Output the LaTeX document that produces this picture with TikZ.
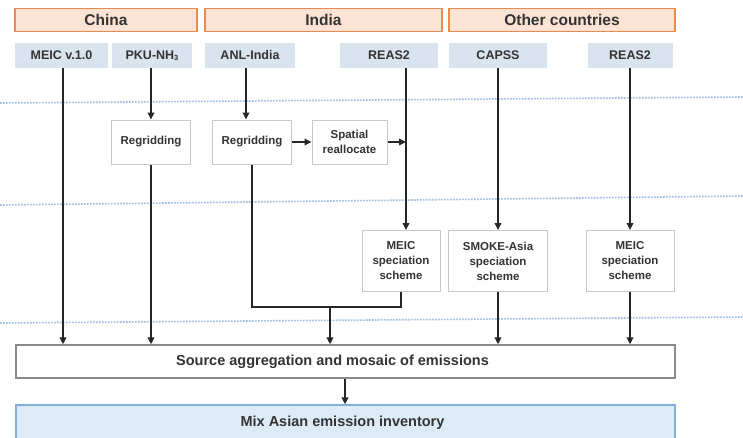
\documentclass[tikz,border=0pt]{standalone}
\usepackage{fontspec}
\setmainfont{Liberation Sans}
\usetikzlibrary{arrows.meta,positioning}
\definecolor{txt}{HTML}{333333}
\definecolor{hdrfill}{HTML}{FCE3D3}
\definecolor{hdrdraw}{HTML}{EE8A4E}
\definecolor{srcfill}{HTML}{DAE4EF}
\definecolor{boxdraw}{HTML}{C9C9C9}
\definecolor{aggdraw}{HTML}{8A8A8A}
\definecolor{mixfill}{HTML}{DDEBF6}
\definecolor{mixdraw}{HTML}{82AEDD}
\definecolor{dotc}{HTML}{9DBDE2}
\definecolor{linec}{HTML}{262626}
\tikzset{
  hdr/.style={draw=hdrdraw,line width=1.6pt,fill=hdrfill,minimum height=23pt,inner sep=0pt,font=\fontsize{15.5}{18}\selectfont\bfseries,text=txt},
  src/.style={fill=srcfill,minimum height=25pt,inner sep=0pt,text height=9.5pt,text depth=2.5pt,font=\fontsize{12.5}{15}\selectfont\bfseries,text=txt},
  proc/.style={draw=boxdraw,line width=1pt,fill=white,inner sep=0pt,align=center,font=\fontsize{11.5}{15}\selectfont\bfseries,text=txt},
  aggbox/.style={draw=aggdraw,line width=1.3pt,fill=white,inner sep=0pt},
  mixbox/.style={draw=mixdraw,line width=1.3pt,fill=mixfill,inner sep=0pt},
  lbl/.style={inner sep=0pt,font=\fontsize{14.5}{17}\selectfont\bfseries,text=txt},
  ln/.style={draw=linec,line width=1.8pt},
  arr/.style={ln,-{Triangle[length=7pt,width=6.5pt]}},
  dotline/.style={draw=dotc,line width=1.6pt,dash pattern=on 1.6pt off 1.4pt}
}
\begin{document}
\begin{tikzpicture}[x=1pt,y=-1pt]
\useasboundingbox (0,0) rectangle (743,437);
\fill[white] (0,0) rectangle (743,437);
% dotted separators
\draw[dotline] (0,103) -- (743,97);
\draw[dotline] (0,205) -- (743,196);
\draw[dotline] (0,323) -- (743,317);
% headers
\node[hdr,minimum width=182pt] (china) at (106,20) {China};
\node[hdr,minimum width=237pt] (india) at (323.5,20) {India};
\node[hdr,minimum width=226pt] (other) at (562,20) {Other countries};
% sources
\node[src,minimum width=93pt] (meic) at (61.5,55.5) {MEIC v.1.0};
\node[src,minimum width=80pt] (pku) at (152,55.5) {PKU-NH\raisebox{-1.5pt}{\fontsize{7.5}{8}\selectfont 3}};
\node[src,minimum width=90pt] (anl) at (250,55.5) {ANL-India};
\node[src,minimum width=98pt] (reasa) at (389,55.5) {REAS2};
\node[src,minimum width=98pt] (capss) at (498,55.5) {CAPSS};
\node[src,minimum width=85pt] (reasb) at (630,55.5) {REAS2};
% processing boxes
\node[proc,minimum width=79pt,minimum height=44pt] (rg1) at (151,142) {Regridding};
\node[proc,minimum width=79pt,minimum height=44pt] (rg2) at (252,142) {Regridding};
\node[proc,minimum width=75pt,minimum height=44pt] (spat) at (349.5,142) {Spatial\\reallocate};
\node[proc,minimum width=78pt,minimum height=61pt] (ms1) at (401,261) {MEIC\\speciation\\scheme};
\node[proc,minimum width=99pt,minimum height=61pt] (smoke) at (498,261) {SMOKE-Asia\\speciation\\scheme};
\node[proc,minimum width=88pt,minimum height=61pt] (ms2) at (630,261) {MEIC\\speciation\\scheme};
% aggregation and result
\node[aggbox,minimum width=659pt,minimum height=33pt] (agg) at (345.5,361.5) {};
\node[lbl] (aggt) at ([xshift=-13pt]agg.center) {Source aggregation and mosaic of emissions};
\node[mixbox,minimum width=659pt,minimum height=36pt] (mix) at (345.5,423) {};
\node[lbl] (mixt) at ([xshift=-3pt]mix.center) {Mix Asian emission inventory};
% connectors
\draw[arr] ([xshift=1.5pt]meic.south) -- ([xshift=1.5pt]meic.south |- agg.north);
\draw[arr] ([xshift=-1pt]pku.south) -- ([xshift=-1pt]pku.south |- rg1.north);
\draw[arr] (rg1.south) -- (rg1.south |- agg.north);
\draw[arr] ([xshift=-4pt]anl.south) -- ([xshift=-4pt]anl.south |- rg2.north);
\draw[arr] (rg2.east) -- (spat.west);
\coordinate (rx) at ([xshift=17pt]reasa.south);
\draw[arr] (spat.east) -- (spat.east -| rx);
\draw[arr] (rx) -- (rx |- ms1.north);
\draw[arr] (capss.south) -- (smoke.north);
\draw[arr] (smoke.south) -- (smoke.south |- agg.north);
\draw[arr] (reasb.south) -- (reasb.south |- ms2.north);
\draw[arr] (ms2.south) -- (ms2.south |- agg.north);
\coordinate (j) at (330,307);
\draw[ln] (rg2.south) |- (ms1.south |- j) -- (ms1.south);
\draw[arr] (j) -- (j |- agg.north);
\draw[arr] ([xshift=-0.5pt]agg.south) -- ([xshift=-0.5pt]agg.south |- mix.north);
\end{tikzpicture}
\end{document}
